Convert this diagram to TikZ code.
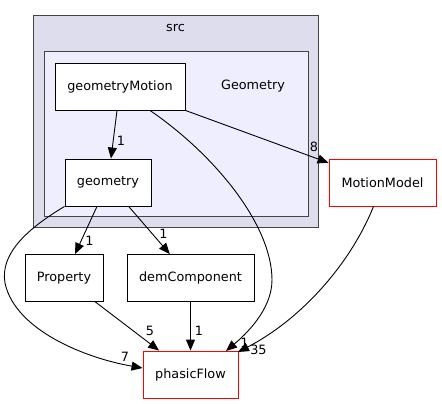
\documentclass[tikz,border=0pt]{standalone}
\usepackage{fontspec}
\setmainfont{DejaVu Sans}
\usetikzlibrary{arrows.meta}
\definecolor{srcfill}{HTML}{DDDDEE}
\definecolor{geofill}{HTML}{EEEEFF}
\definecolor{clborder}{HTML}{444444}
\tikzset{
  dirbox/.style={draw=black, fill=white, line width=0.9pt, minimum height=47pt, inner sep=0pt, font=\fontsize{12.8}{14}\selectfont},
  extbox/.style={draw=red, fill=white, line width=0.9pt, minimum height=47pt, inner sep=0pt, font=\fontsize{12.8}{14}\selectfont},
  cluster/.style={draw=clborder, line width=1pt},
  dep/.style={draw=black, line width=0.9pt, -{Triangle[length=11pt,width=9pt]}},
  elabel/.style={font=\fontsize{12.8}{14}\selectfont, inner sep=0pt},
  clabel/.style={font=\fontsize{12.8}{14}\selectfont, inner sep=0pt}
}
\begin{document}
\begin{tikzpicture}[x=1pt,y=-1pt]
\useasboundingbox (0,0) rectangle (442,404);
% clusters
\draw[cluster, fill=srcfill] (33,16) rectangle (318,227);
\node[clabel] (srclbl) at (175.5,28) {src};
\draw[cluster, fill=geofill] (44,52) rectangle (308,216);
\node[clabel] (geolbl) at (253,86.5) {Geometry};
% nodes
\node[dirbox, minimum width=130pt] (gm) at (120,86.5) {geometryMotion};
\node[dirbox, minimum width=86pt] (geo) at (108,182.5) {geometry};
\node[extbox, minimum width=107pt] (mm) at (382.5,182.5) {MotionModel};
\node[dirbox, minimum width=78pt] (prop) at (64,278) {Property};
\node[dirbox, minimum width=127pt] (dem) at (190.5,278) {demComponent};
\node[extbox, minimum width=95pt] (pf) at (190.5,374.5) {phasicFlow};
% edges
\draw[dep] (gm) -- (geo);
\node[elabel] (l1) at (121,141) {1};
\draw[dep] (gm) -- (mm);
\node[elabel] (l8) at (314,147) {8};
\draw[dep] (geo) -- (prop);
\node[elabel] (l2) at (89.5,241) {1};
\draw[dep] (geo) -- (dem);
\node[elabel] (l3) at (163.5,234) {1};
\draw[dep] (prop) -- (pf);
\node[elabel] (l5) at (150,331) {5};
\draw[dep] (dem) -- (pf);
\node[elabel] (l6) at (199,331) {1};
\draw[dep] (geo.south west) .. controls (25,230) and (0,255) .. (5,283)
  .. controls (15,330) and (85,358) .. (pf.west |- 0,368);
\node[elabel] (l7) at (125,357) {7};
\draw[dep] (gm.south) ++(30,0) coordinate (gms) (gms) .. controls (215,155) and (272,225) .. (272,280)
  .. controls (272,310) and (245,335) .. (226,351);
\node[elabel] (l9) at (244.5,343) {1};
\draw[dep] (mm.south) ++(-9,0) coordinate (mms) (mms) .. controls (350,265) and (300,320) .. (238,352);
\node[elabel] (l35) at (258.5,350) {35};
\end{tikzpicture}
\end{document}
